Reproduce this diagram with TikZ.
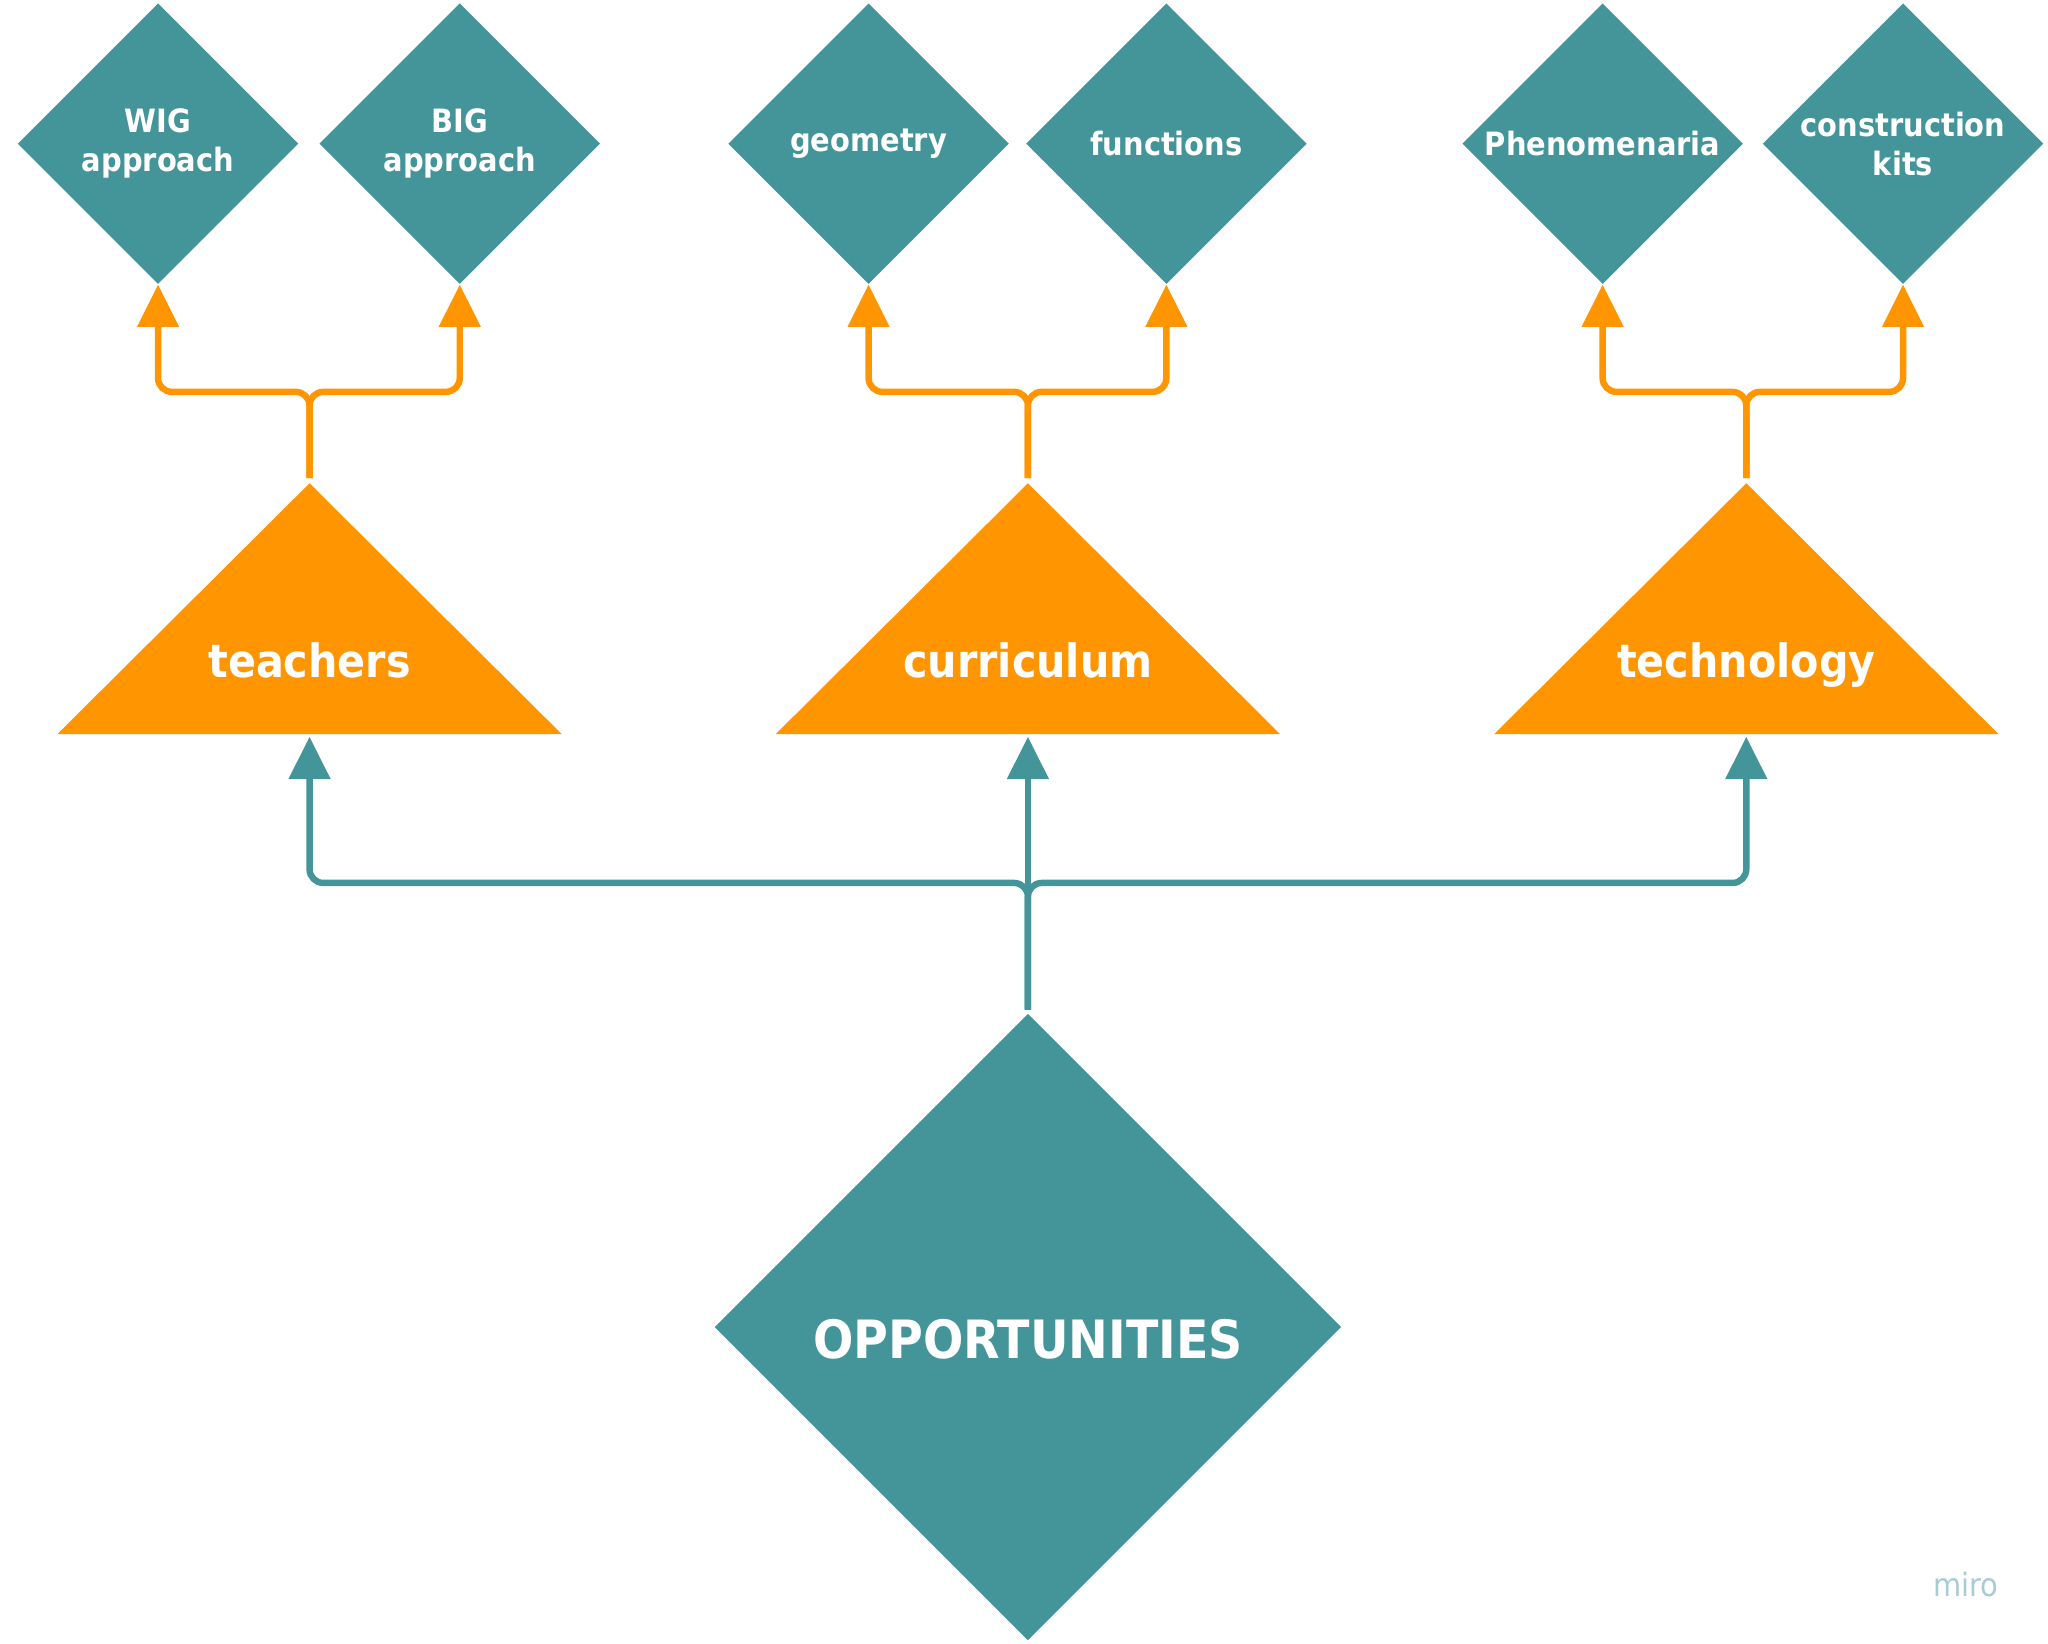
\documentclass[tikz,border=0pt]{standalone}
\usepackage{fontspec}
\setmainfont{DejaVu Sans Condensed}
\usetikzlibrary{shapes.geometric,arrows.meta,positioning}
\definecolor{teal1}{HTML}{43959A}
\definecolor{orange1}{HTML}{FF9500}
\definecolor{miro}{HTML}{A9CBD3}
\begin{document}
\begin{tikzpicture}[x=0.02cm,y=-0.02cm,
  leaf/.style={diamond,aspect=1,fill=teal1,text=white,font=\bfseries\fontsize{14}{17}\selectfont,
    minimum width=4.3cm,minimum height=4.3cm,inner sep=0pt,align=center},
  tri/.style={fill=orange1},
  trilabel/.style={text=white,font=\bfseries\fontsize{20}{24}\selectfont,anchor=base},
  oarrow/.style={draw=orange1,line width=2.8pt,rounded corners=6pt,-{Triangle[length=0.65cm,width=0.62cm]}},
  tarrow/.style={draw=teal1,line width=2.8pt,rounded corners=6pt,-{Triangle[length=0.65cm,width=0.62cm]}}]
\useasboundingbox (0,0) rectangle (1568,1258);
% top row
\node[leaf] (wig) at (121,110) {WIG\\approach};
\node[leaf] (big) at (352,110) {BIG\\approach};
\node[leaf] (geo) at (665,110) {geometry};
\node[leaf] (fun) at (893,110) {functions};
\node[leaf] (phe) at (1227,110) {Phenomenaria};
\node[leaf] (kit) at (1457,110) {construction\\kits};
% triangles
\foreach \n/\x/\t in {tea/237/teachers,cur/787/curriculum,tec/1337/technology}{
  \fill[tri] (\x,370) -- (\x+193,562) -- (\x-193,562) -- cycle;
  \coordinate (\n-top) at (\x,366);
  \coordinate (\n-bot) at (\x,564);
  \node[trilabel] (\n) at (\x,519) {\t};
}
% root
\node[diamond,aspect=1,fill=teal1,text=white,font=\bfseries\fontsize{23}{28}\selectfont,
  minimum width=9.6cm,minimum height=9.6cm,inner sep=0pt,anchor=center] (opp) at (787,1016) {};
\node[text=white,font=\bfseries\fontsize{23}{28}\selectfont,anchor=base] (opplabel) at (787,1040) {OPPORTUNITIES};
\coordinate (opptop) at (787,773);
% connectors
\draw[oarrow] (tea-top) |- (121,300) -- (wig.south);
\draw[oarrow] (tea-top) |- (352,300) -- (big.south);
\draw[oarrow] (cur-top) |- (665,300) -- (geo.south);
\draw[oarrow] (cur-top) |- (893,300) -- (fun.south);
\draw[oarrow] (tec-top) |- (1227,300) -- (phe.south);
\draw[oarrow] (tec-top) |- (1457,300) -- (kit.south);
\draw[tarrow] (opptop) |- (237,676) -- (tea-bot);
\draw[tarrow] (opptop) -- (cur-bot);
\draw[tarrow] (opptop) |- (1337,676) -- (tec-bot);
\node[text=miro,font=\fontsize{14}{16}\selectfont] (mirologo) at (1505,1213) {miro};
\end{tikzpicture}
\end{document}
